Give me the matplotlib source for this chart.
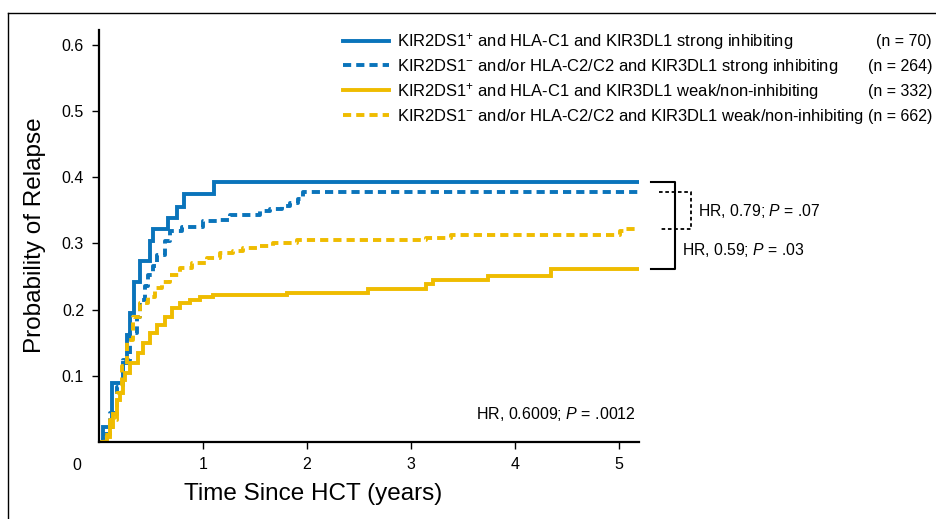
import matplotlib
matplotlib.use("Agg")
import matplotlib.pyplot as plt
from matplotlib.lines import Line2D

plt.rcParams["font.family"] = "Liberation Sans"
plt.rcParams["mathtext.fontset"] = "custom"
plt.rcParams["mathtext.rm"] = "Liberation Sans"
plt.rcParams["mathtext.it"] = "Liberation Sans:italic"

# step curves (years, cumulative probability of relapse)
t_blue_solid = [0.0, 0.03, 0.118, 0.23, 0.27, 0.29, 0.336, 0.39, 0.487, 0.519, 0.657, 0.744, 0.817, 1.103, 5.2]
p_blue_solid = [0.0, 0.023, 0.089, 0.119, 0.162, 0.195, 0.241, 0.273, 0.304, 0.321, 0.338, 0.355, 0.374, 0.392, 0.392]

t_blue_dash = [0.0, 0.035, 0.102, 0.166, 0.23, 0.295, 0.359, 0.39, 0.439, 0.468, 0.516, 0.551, 0.631, 0.68,
               0.792, 0.997, 1.129, 1.257, 1.546, 1.642, 1.755, 1.834, 1.911, 1.96, 5.2]
p_blue_dash = [0.0, 0.012, 0.044, 0.083, 0.124, 0.165, 0.189, 0.215, 0.235, 0.252, 0.265, 0.283, 0.304, 0.318,
               0.325, 0.333, 0.335, 0.343, 0.348, 0.352, 0.356, 0.361, 0.367, 0.377, 0.377]

t_yel_solid = [0.0, 0.07, 0.102, 0.134, 0.166, 0.198, 0.23, 0.246, 0.295, 0.374, 0.423, 0.487, 0.551, 0.631,
               0.696, 0.776, 0.872, 0.968, 1.096, 1.803, 2.588, 3.15, 3.214, 3.743, 4.353, 5.2]
p_yel_solid = [0.0, 0.008, 0.023, 0.043, 0.063, 0.074, 0.094, 0.104, 0.119, 0.134, 0.149, 0.164, 0.177, 0.189,
               0.202, 0.2095, 0.2145, 0.2195, 0.222, 0.2255, 0.231, 0.238, 0.245, 0.251, 0.261, 0.261]

t_yel_dash = [0.0, 0.05, 0.102, 0.166, 0.215, 0.263, 0.326, 0.39, 0.471, 0.535, 0.6, 0.68, 0.776, 0.888, 1.033,
              1.161, 1.289, 1.385, 1.514, 1.674, 1.899, 3.15, 3.39, 5.01, 5.06, 5.2]
p_yel_dash = [0.0, 0.01, 0.033, 0.074, 0.114, 0.154, 0.189, 0.2095, 0.2195, 0.232, 0.242, 0.252, 0.262, 0.27, 0.2775,
              0.285, 0.289, 0.2925, 0.296, 0.301, 0.305, 0.3085, 0.3125, 0.3185, 0.3217, 0.3217]

legend_labels = [
    "KIR2DS1$^{+}$ and HLA-C1 and KIR3DL1 strong inhibiting",
    "KIR2DS1$^{-}$ and/or HLA-C2/C2 and KIR3DL1 strong inhibiting",
    "KIR2DS1$^{+}$ and HLA-C1 and KIR3DL1 weak/non-inhibiting",
    "KIR2DS1$^{-}$ and/or HLA-C2/C2 and KIR3DL1 weak/non-inhibiting",
]
n_labels = ["(n = 70)", "(n = 264)", "(n = 332)", "(n = 662)"]

blue = "#0a74bb"
yellow = "#efbc00"

W, H = 937, 519
fig = plt.figure(figsize=(W / 100, H / 100), dpi=100)
ax = fig.add_axes([99.4 / W, (H - 442) / H, (639.3 - 99.4) / W, (442 - 30) / H])

series = [
    (t_blue_solid, p_blue_solid, blue, "-"),
    (t_blue_dash, p_blue_dash, blue, "--"),
    (t_yel_solid, p_yel_solid, yellow, "-"),
    (t_yel_dash, p_yel_dash, yellow, "--"),
]
for t, p, c, ls in series:
    line, = ax.step(t, p, where="post", color=c, lw=2.8, linestyle=ls, solid_joinstyle="miter")
    if ls == "--":
        line.set_dashes((2.1, 1.3))

ax.set_xlim(0, 5.2)
ax.set_ylim(0, 0.622)
ax.set_xticks([1, 2, 3, 4, 5])
ax.set_yticks([0.1, 0.2, 0.3, 0.4, 0.5, 0.6])
ax.set_yticklabels(["0.1", "0.2", "0.3", "0.4", "0.5", "0.6"])
ax.tick_params(direction="out", length=5, width=1, labelsize=11.5, pad=6)
for s in ["top", "right"]:
    ax.spines[s].set_visible(False)
for s in ["left", "bottom"]:
    ax.spines[s].set_linewidth(1.6)

fig.text(77 / W, 1 - 466 / H, "0", fontsize=11.5, ha="center", va="center")
fig.text(313 / W, 1 - 494 / H, "Time Since HCT (years)", fontsize=17.5, ha="center", va="center")
fig.text(35 / W, 1 - 235 / H, "Probability of Relapse", fontsize=17.5, ha="center", va="center", rotation=90)

# legend drawn by hand
row_y = [0.604, 0.567, 0.529, 0.491]
for (t, p, c, ls), lab, n, yy in zip(series, legend_labels, n_labels, row_y):
    ln, = ax.plot([2.35, 2.79], [yy + 0.002, yy + 0.002], color=c, lw=2.8, linestyle=ls, clip_on=False)
    if ls == "--":
        ln.set_dashes((2.1, 1.3))
    ax.text(2.87, yy, lab, fontsize=11.9, va="center", ha="left", clip_on=False)
    ax.text(8.02, yy, n, fontsize=11.5, va="center", ha="right", clip_on=False)

# comparison brackets
top_solid = p_blue_solid[-1]
bot_solid = p_yel_solid[-1]
ax.plot([5.316, 5.54, 5.54, 5.316], [top_solid, top_solid, bot_solid, bot_solid],
        color="black", lw=1.5, clip_on=False)
top_dot = p_blue_dash[-1]
bot_dot = p_yel_dash[-1]
ax.plot([5.386, 5.694, 5.694, 5.386], [top_dot, top_dot, bot_dot, bot_dot],
        color="black", lw=1.3, linestyle=(0, (2, 1.5)), clip_on=False)
ax.text(5.77, 0.349, "HR, 0.79; $P$ = .07", fontsize=11.3, va="center", ha="left", clip_on=False)
ax.text(5.61, 0.29, "HR, 0.59; $P$ = .03", fontsize=11.3, va="center", ha="left", clip_on=False)
ax.text(5.17, 0.043, "HR, 0.6009; $P$ = .0012", fontsize=11.5, va="center", ha="right")

# outer frame (top and left only)
fig.add_artist(Line2D([8 / W, 8 / W], [0, 1 - 13 / H], color="black", lw=1))
fig.add_artist(Line2D([8 / W, 1], [1 - 13 / H, 1 - 13 / H], color="black", lw=1))

fig.savefig("out.png", dpi=100)
